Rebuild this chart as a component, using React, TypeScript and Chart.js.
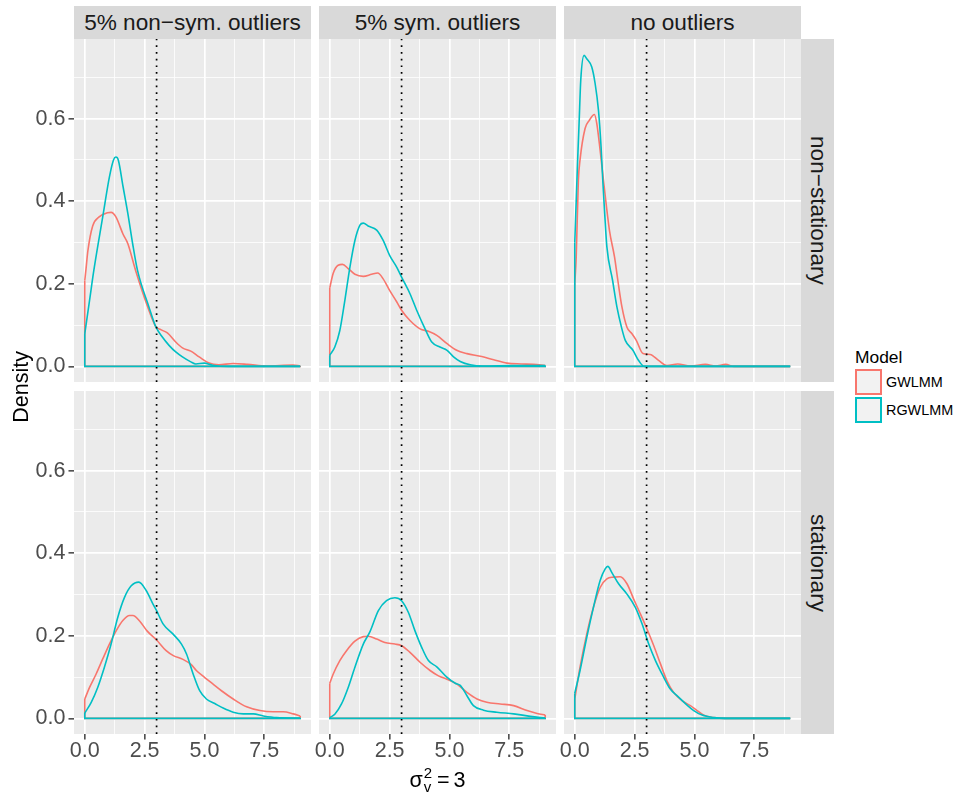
import React, { useEffect, useRef } from "react";
import { Chart, registerables } from "chart.js";

Chart.register(...registerables);

type Pt = [number, number];

// ---------------- data ----------------
const columnFacets = ["5% non−sym. outliers", "5% sym. outliers", "no outliers"];
const rowFacets = ["non−stationary", "stationary"];
const modelNames = ["GWLMM", "RGWLMM"];
const modelColors = ["#F8766D", "#00BFC4"];
const xTickValues = [0, 2.5, 5, 7.5];
const xTickLabels = ["0.0", "2.5", "5.0", "7.5"];
const xMinorValues = [1.25, 3.75, 6.25, 8.75];
const yTickValues = [0, 0.2, 0.4, 0.6];
const yTickLabels = ["0.0", "0.2", "0.4", "0.6"];
const yMinorValues = [0.1, 0.3, 0.5, 0.7];
const trueValue = 3;
const xLimits = [-0.45, 9.45];
const yLimits = [-0.03775, 0.79275];
const yAxisTitle = "Density";
const legendTitle = "Model";

// row 1: non-stationary
const gwlmmNonstatNonsym: Pt[] = [
  [0, 0.208], [0.05, 0.235], [0.13, 0.28], [0.33, 0.34], [0.6, 0.362], [0.95, 0.372], [1.1, 0.373],
  [1.3, 0.362], [1.6, 0.32], [1.8, 0.297], [2.12, 0.233], [2.63, 0.144], [2.96, 0.097], [3.17, 0.089],
  [3.45, 0.081], [3.8, 0.059], [4.08, 0.045], [4.43, 0.037], [4.78, 0.023], [5.19, 0.008], [5.6, 0.004],
  [6.2, 0.007], [6.8, 0.005], [7.6, 0.001], [8.7, 0.003], [9, 0.001],
];
const rgwlmmNonstatNonsym: Pt[] = [
  [0, 0.079], [0.2, 0.16], [0.38, 0.233], [0.75, 0.362], [1.03, 0.459], [1.2, 0.5], [1.3, 0.507],
  [1.4, 0.5], [1.6, 0.435], [1.8, 0.37], [2.0, 0.297], [2.2, 0.233], [2.68, 0.144], [2.96, 0.097],
  [3.24, 0.071], [3.52, 0.051], [3.8, 0.035], [4.08, 0.023], [4.43, 0.011], [4.64, 0.006], [4.99, 0.008],
  [5.34, 0.003], [6, 0], [9, 0],
];
const gwlmmNonstatSym: Pt[] = [
  [0, 0.19], [0.14, 0.225], [0.35, 0.245], [0.53, 0.247], [0.77, 0.237], [1.05, 0.223], [1.4, 0.218],
  [1.75, 0.223], [2.0, 0.226], [2.23, 0.212], [2.5, 0.184], [2.8, 0.156], [3.0, 0.136], [3.35, 0.111],
  [3.77, 0.091], [4.12, 0.085], [4.47, 0.075], [4.9, 0.055], [5.3, 0.039], [5.73, 0.031], [6.35, 0.024],
  [6.85, 0.016], [7.4, 0.008], [8.0, 0.006], [8.5, 0.005], [9, 0.002],
];
const rgwlmmNonstatSym: Pt[] = [
  [0, 0.027], [0.21, 0.047], [0.42, 0.087], [0.63, 0.16], [0.84, 0.24], [1.05, 0.305], [1.26, 0.342],
  [1.4, 0.347], [1.6, 0.34], [1.96, 0.33], [2.23, 0.305], [2.5, 0.269], [2.8, 0.24], [3.0, 0.216],
  [3.35, 0.176], [3.63, 0.136], [3.98, 0.091], [4.26, 0.059], [4.6, 0.047], [4.9, 0.039], [5.17, 0.023],
  [5.45, 0.012], [5.87, 0.004], [6.4, 0.001], [7.7, 0.002], [9, 0.002],
];
const gwlmmNonstatNone: Pt[] = [
  [0, 0.2], [0.06, 0.265], [0.15, 0.45], [0.22, 0.5], [0.43, 0.576], [0.6, 0.595], [0.82, 0.61],
  [0.92, 0.588], [1.06, 0.523], [1.2, 0.45], [1.45, 0.329], [1.66, 0.265], [1.8, 0.208], [1.97, 0.144],
  [2.18, 0.095], [2.39, 0.079], [2.57, 0.063], [2.85, 0.031], [3.15, 0.029], [3.5, 0.0145], [3.85, 0.002],
  [4.3, 0.006], [4.83, 0.001], [5.46, 0.005], [5.88, 0.001], [6.3, 0.005], [6.65, 0], [9, 0],
];
const rgwlmmNonstatNone: Pt[] = [
  [0, 0.3], [0.12, 0.5], [0.18, 0.588], [0.25, 0.693], [0.39, 0.753], [0.5, 0.745], [0.71, 0.725],
  [0.85, 0.685], [0.99, 0.62], [1.1, 0.53], [1.17, 0.45], [1.25, 0.37], [1.34, 0.29], [1.58, 0.208],
  [1.76, 0.144], [1.95, 0.095], [2.11, 0.063], [2.43, 0.039], [2.66, 0.015], [2.9, 0], [9, 0],
];

// row 2: stationary
const gwlmmStatNonsym: Pt[] = [
  [0, 0.047], [0.2, 0.075], [0.47, 0.107], [0.75, 0.144], [1.03, 0.18], [1.31, 0.212], [1.59, 0.237],
  [1.87, 0.249], [2.01, 0.249], [2.29, 0.236], [2.6, 0.212], [3.0, 0.19], [3.4, 0.164], [3.7, 0.152],
  [4.1, 0.143], [4.45, 0.13], [4.66, 0.116], [5.01, 0.099], [5.36, 0.083], [5.71, 0.067], [6.2, 0.047],
  [6.76, 0.028], [7.32, 0.019], [7.87, 0.016], [8.29, 0.016], [8.71, 0.011], [9, 0.006],
];
const rgwlmmStatNonsym: Pt[] = [
  [0, 0.013], [0.27, 0.039], [0.54, 0.075], [0.82, 0.124], [1.1, 0.18], [1.38, 0.245], [1.66, 0.293],
  [1.94, 0.321], [2.26, 0.33], [2.57, 0.309], [2.85, 0.277], [3.0, 0.261], [3.27, 0.229], [3.69, 0.204],
  [4.04, 0.18], [4.25, 0.156], [4.53, 0.107], [4.8, 0.067], [5.08, 0.047], [5.43, 0.036], [5.78, 0.025],
  [6.2, 0.015], [6.62, 0.011], [7.04, 0.011], [7.46, 0.006], [8.02, 0.002], [9, 0.001],
];
const gwlmmStatSym: Pt[] = [
  [0, 0.085], [0.14, 0.107], [0.42, 0.14], [0.7, 0.164], [1.05, 0.187], [1.4, 0.198], [1.61, 0.199],
  [1.96, 0.192], [2.3, 0.184], [2.72, 0.18], [3.0, 0.176], [3.35, 0.16], [3.77, 0.136], [4.19, 0.116],
  [4.54, 0.103], [4.89, 0.095], [5.31, 0.083], [5.73, 0.063], [6.15, 0.047], [6.56, 0.039], [7.12, 0.035],
  [7.68, 0.031], [8.24, 0.019], [8.66, 0.012], [9, 0.008],
];
const rgwlmmStatSym: Pt[] = [
  [0, 0.002], [0.21, 0.01], [0.49, 0.035], [0.77, 0.075], [1.05, 0.124], [1.4, 0.18], [1.68, 0.21],
  [2.03, 0.261], [2.37, 0.285], [2.72, 0.292], [3.0, 0.285], [3.28, 0.257], [3.56, 0.212], [3.84, 0.172],
  [4.12, 0.14], [4.47, 0.125], [4.89, 0.1], [5.24, 0.085], [5.45, 0.08], [5.73, 0.055], [6.0, 0.031],
  [6.42, 0.02], [6.98, 0.015], [7.68, 0.011], [8.38, 0.005], [9, 0.001],
];
const gwlmmStatNone: Pt[] = [
  [0, 0.047], [0.22, 0.124], [0.5, 0.204], [0.78, 0.269], [1.06, 0.317], [1.34, 0.338], [1.62, 0.342],
  [1.9, 0.343], [2.18, 0.326], [2.46, 0.289], [2.74, 0.253], [3.02, 0.216], [3.3, 0.176], [3.58, 0.132],
  [3.85, 0.091], [4.13, 0.063], [4.48, 0.043], [4.83, 0.031], [5.11, 0.019], [5.39, 0.008], [5.81, 0.002],
  [6.3, 0], [9, 0],
];
const rgwlmmStatNone: Pt[] = [
  [0, 0.061], [0.22, 0.116], [0.5, 0.196], [0.78, 0.269], [1.06, 0.334], [1.27, 0.362], [1.38, 0.368],
  [1.55, 0.353], [1.83, 0.326], [2.18, 0.301], [2.53, 0.269], [2.81, 0.229], [3.09, 0.18], [3.37, 0.14],
  [3.65, 0.107], [3.99, 0.071], [4.27, 0.055], [4.62, 0.036], [4.97, 0.019], [5.32, 0.008], [5.81, 0.002],
  [6.3, 0], [9, 0],
];

const panelSeries: Pt[][][][] = [
  [
    [gwlmmNonstatNonsym, rgwlmmNonstatNonsym],
    [gwlmmNonstatSym, rgwlmmNonstatSym],
    [gwlmmNonstatNone, rgwlmmNonstatNone],
  ],
  [
    [gwlmmStatNonsym, rgwlmmStatNonsym],
    [gwlmmStatSym, rgwlmmStatSym],
    [gwlmmStatNone, rgwlmmStatNone],
  ],
];

// ---------------- layout ----------------
const FONT = "'Liberation Sans', Arial, Helvetica, sans-serif";
const PANEL_LEFTS = [74, 319, 564];
const PANEL_W = 237;
const PANEL_TOPS = [39, 391];
const PANEL_H = 343;

const near = (a: number, b: number) => Math.abs(a - b) < 1e-9;
const isIn = (arr: number[], v: number) => arr.some((a) => near(a, v));

const bgPlugin = {
  id: "panelBg",
  beforeDraw(chart: any) {
    const { ctx, chartArea } = chart;
    if (!chartArea) return;
    ctx.save();
    ctx.fillStyle = "#EBEBEB";
    ctx.fillRect(chartArea.left, chartArea.top, chartArea.right - chartArea.left, chartArea.bottom - chartArea.top);
    ctx.restore();
  },
};

function Panel({ row, col }: { row: number; col: number }) {
  const ref = useRef<HTMLCanvasElement>(null);
  const showY = col === 0;
  const showX = row === 1;
  const padL = showY ? 60 : 10;
  const padB = showX ? 34 : 0;

  useEffect(() => {
    if (!ref.current) return;
    const datasets: any[] = [];
    datasets.push({
      label: "true",
      data: [
        { x: trueValue, y: yLimits[0] },
        { x: trueValue, y: yLimits[1] },
      ],
      borderColor: "#000000",
      borderWidth: 1.7,
      borderDash: [1.7, 5],
      pointRadius: 0,
      tension: 0,
      order: 0,
    });
    const series = panelSeries[row][col];
    [1, 0].forEach((m) => {
      const pts = series[m];
      const first = pts[0];
      const last = pts[pts.length - 1];
      datasets.push({
        label: modelNames[m],
        data: pts.map(([x, y]) => ({ x, y })),
        borderColor: modelColors[m],
        borderWidth: 1.6,
        pointRadius: 0,
        cubicInterpolationMode: "monotone",
        fill: false,
        order: m === 1 ? 1 : 3,
      });
      datasets.push({
        label: modelNames[m] + " base",
        data: [
          { x: first[0], y: first[1] },
          { x: first[0], y: 0 },
          { x: last[0], y: 0 },
          { x: last[0], y: last[1] },
        ],
        borderColor: modelColors[m],
        borderWidth: 1.6,
        pointRadius: 0,
        tension: 0,
        fill: false,
        order: m === 1 ? 2 : 4,
      });
    });

    const chart = new Chart(ref.current, {
      type: "line",
      data: { datasets },
      options: {
        animation: false,
        responsive: true,
        maintainAspectRatio: false,
        events: [],
        layout: { padding: 0 },
        plugins: { legend: { display: false }, tooltip: { enabled: false } },
        scales: {
          x: {
            type: "linear",
            min: xLimits[0],
            max: xLimits[1],
            afterBuildTicks: (s: any) => {
              s.ticks = [...xTickValues, ...xMinorValues].sort((a, b) => a - b).map((v) => ({ value: v }));
            },
            afterFit: (s: any) => {
              s.height = padB;
              s.paddingLeft = 0;
              s.paddingRight = 0;
              s.paddingTop = 0;
              s.paddingBottom = 0;
            },
            ticks: {
              display: showX,
              autoSkip: false,
              maxRotation: 0,
              minRotation: 0,
              padding: 1,
              color: "#4D4D4D",
              font: { family: FONT, size: 21.5, lineHeight: 1 },
              callback: (v: any) => {
                const i = xTickValues.findIndex((t) => near(t, Number(v)));
                return i >= 0 ? xTickLabels[i] : "";
              },
            },
            grid: {
              color: "#FFFFFF",
              lineWidth: (c: any) => (c.tick && isIn(xTickValues, c.tick.value) ? 1.7 : 0.8),
              drawTicks: showX,
              tickLength: 5.5,
              tickWidth: 1.4,
              tickColor: (c: any) => (c.tick && isIn(xTickValues, c.tick.value) ? "#333333" : "rgba(0,0,0,0)"),
            },
            border: { display: false },
          },
          y: {
            type: "linear",
            min: yLimits[0],
            max: yLimits[1],
            afterBuildTicks: (s: any) => {
              s.ticks = [...yTickValues, ...yMinorValues].sort((a, b) => a - b).map((v) => ({ value: v }));
            },
            afterFit: (s: any) => {
              s.width = padL;
              s.paddingLeft = 0;
              s.paddingRight = 0;
              s.paddingTop = 0;
              s.paddingBottom = 0;
            },
            ticks: {
              display: showY,
              autoSkip: false,
              padding: 3,
              color: "#4D4D4D",
              font: { family: FONT, size: 21.5 },
              callback: (v: any) => {
                const i = yTickValues.findIndex((t) => near(t, Number(v)));
                return i >= 0 ? yTickLabels[i] : "";
              },
            },
            grid: {
              color: "#FFFFFF",
              lineWidth: (c: any) => (c.tick && isIn(yTickValues, c.tick.value) ? 1.7 : 0.8),
              drawTicks: showY,
              tickLength: 5.5,
              tickWidth: 1.4,
              tickColor: (c: any) => (c.tick && isIn(yTickValues, c.tick.value) ? "#333333" : "rgba(0,0,0,0)"),
            },
            border: { display: false },
          },
        },
      } as any,
      plugins: [bgPlugin],
    });
    return () => chart.destroy();
  }, [row, col]);

  return (
    <div
      style={{
        position: "absolute",
        left: PANEL_LEFTS[col] - padL,
        top: PANEL_TOPS[row],
        width: PANEL_W + padL,
        height: PANEL_H + padB,
      }}
    >
      <canvas ref={ref} />
    </div>
  );
}

export default function App() {
  const stripText = { fontFamily: FONT, fontSize: 22.6, color: "#1A1A1A" };
  return (
    <div
      style={{
        position: "absolute",
        left: 0,
        top: 0,
        width: 954,
        height: 796,
        background: "#FFFFFF",
        overflow: "hidden",
        fontFamily: FONT,
      }}
    >
      {/* top strips */}
      {columnFacets.map((t, c) => (
        <div
          key={"cs" + c}
          style={{
            position: "absolute",
            left: PANEL_LEFTS[c],
            top: 6,
            width: PANEL_W,
            height: 33,
            background: "#D9D9D9",
            display: "flex",
            alignItems: "center",
            justifyContent: "center",
            ...stripText,
          }}
        >
          <span>{t}</span>
        </div>
      ))}
      {/* right strips */}
      {rowFacets.map((t, r) => (
        <div
          key={"rs" + r}
          style={{
            position: "absolute",
            left: PANEL_LEFTS[2] + PANEL_W,
            top: PANEL_TOPS[r],
            width: 33,
            height: PANEL_H,
            background: "#D9D9D9",
            display: "flex",
            alignItems: "center",
            justifyContent: "center",
            ...stripText,
          }}
        >
          <span style={{ writingMode: "vertical-rl", whiteSpace: "nowrap" }}>{t}</span>
        </div>
      ))}
      {/* panels */}
      {[0, 1].map((r) => [0, 1, 2].map((c) => <Panel key={r + "-" + c} row={r} col={c} />))}
      {/* y axis title */}
      <div
        style={{
          position: "absolute",
          left: 0,
          top: PANEL_TOPS[0],
          width: 42,
          height: PANEL_TOPS[1] + PANEL_H - PANEL_TOPS[0],
          display: "flex",
          alignItems: "center",
          justifyContent: "center",
          fontSize: 21.5,
          color: "#000",
          pointerEvents: "none",
        }}
      >
        <span style={{ writingMode: "vertical-rl", transform: "rotate(180deg)", whiteSpace: "nowrap" }}>
          {yAxisTitle}
        </span>
      </div>
      {/* x axis title */}
      <div
        style={{
          position: "absolute",
          left: PANEL_LEFTS[0],
          width: PANEL_LEFTS[2] + PANEL_W - PANEL_LEFTS[0],
          top: 762,
          height: 36,
          display: "flex",
          alignItems: "center",
          justifyContent: "center",
          fontSize: 21.5,
          color: "#000",
        }}
      >
        <span>σ</span>
        <span
          style={{
            display: "inline-flex",
            flexDirection: "column",
            fontSize: 15,
            lineHeight: "14px",
            marginLeft: 1,
            alignItems: "flex-start",
          }}
        >
          <span>2</span>
          <span>v</span>
        </span>
        <span style={{ marginLeft: 5 }}>=</span>
        <span style={{ marginLeft: 4 }}>3</span>
      </div>
      {/* legend */}
      <div
        style={{
          position: "absolute",
          left: 855,
          top: 345,
          fontSize: 17.4,
          lineHeight: "24px",
          color: "#000",
        }}
      >
        {legendTitle}
      </div>
      {modelNames.map((m, i) => (
        <React.Fragment key={m}>
          <div
            style={{
              position: "absolute",
              left: 855,
              top: 369 + i * 28,
              width: 27,
              height: 26,
              boxSizing: "border-box",
              border: "2px solid " + modelColors[i],
              background: "#F2F2F2",
            }}
          />
          <div
            style={{
              position: "absolute",
              left: 886,
              top: 369 + i * 28,
              height: 26,
              display: "flex",
              alignItems: "center",
              fontSize: 14.4,
              color: "#000",
            }}
          >
            {m}
          </div>
        </React.Fragment>
      ))}
    </div>
  );
}
